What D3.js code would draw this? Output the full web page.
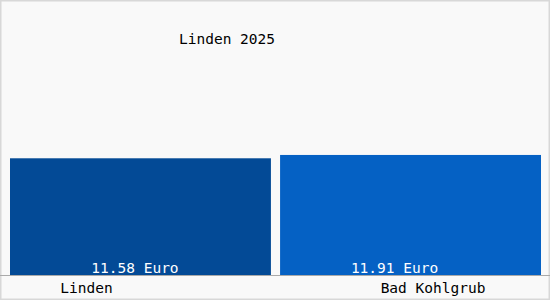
<!DOCTYPE html>
<html><head><meta charset="utf-8">
<script src="https://cdn.jsdelivr.net/npm/d3@7"></script>
<style>html,body{margin:0;padding:0;background:#fff}svg{display:block}</style>
</head><body>
<script>
const title = "Linden 2025";
const categories = ["Linden", "Bad Kohlgrub"];
const values = [11.58, 11.91];
const valueLabels = ["11.58 Euro", "11.91 Euro"];
const colors = ["#034a96", "#0561c4"];

const W = 550, H = 300;
const svg = d3.select("body").append("svg").attr("width", W).attr("height", H);
svg.append("rect").attr("x", 0.5).attr("y", 0.5).attr("width", W - 1).attr("height", H - 1)
  .attr("fill", "#f9f9f9").attr("stroke", "#d8d8d8").attr("stroke-width", 2);

const x = d3.scaleBand().domain(categories).range([10, 541]).paddingInner(9 / 265.5).paddingOuter(0);
const y = d3.scaleLinear().domain([0, 25.3]).range([275, 20]);
const font = "'DejaVu Sans Mono', monospace";

svg.selectAll("rect.bar").data(values).enter().append("rect").attr("class", "bar")
  .attr("x", (d, i) => x(categories[i]))
  .attr("width", x.bandwidth())
  .attr("y", d => y(d))
  .attr("height", d => y(0) - y(d))
  .attr("fill", (d, i) => colors[i]);

svg.append("line").attr("x1", 0).attr("x2", W).attr("y1", y(0) + 0.5).attr("y2", y(0) + 0.5)
  .attr("stroke", "#aaaaaa").attr("stroke-width", 1);

const valOffsets = [-5.5, -16];
svg.selectAll("text.val").data(valueLabels).enter().append("text").attr("class", "val")
  .attr("x", (d, i) => x(categories[i]) + x.bandwidth() / 2 + valOffsets[i])
  .attr("y", y(0) - 2.5)
  .attr("text-anchor", "middle").attr("fill", "#ffffff")
  .attr("font-family", font).attr("font-size", 14.5).text(d => d);

const catOffsets = [-54, 22.5];
svg.selectAll("text.cat").data(categories).enter().append("text").attr("class", "cat")
  .attr("x", (d, i) => x(d) + x.bandwidth() / 2 + catOffsets[i])
  .attr("y", 293)
  .attr("text-anchor", "middle").attr("fill", "#000")
  .attr("font-family", font).attr("font-size", 14.5).text(d => d);

svg.append("text").attr("x", 227).attr("y", 44).attr("text-anchor", "middle")
  .attr("font-family", font).attr("font-size", 14.5).attr("fill", "#000").text(title);
</script>
</body></html>
